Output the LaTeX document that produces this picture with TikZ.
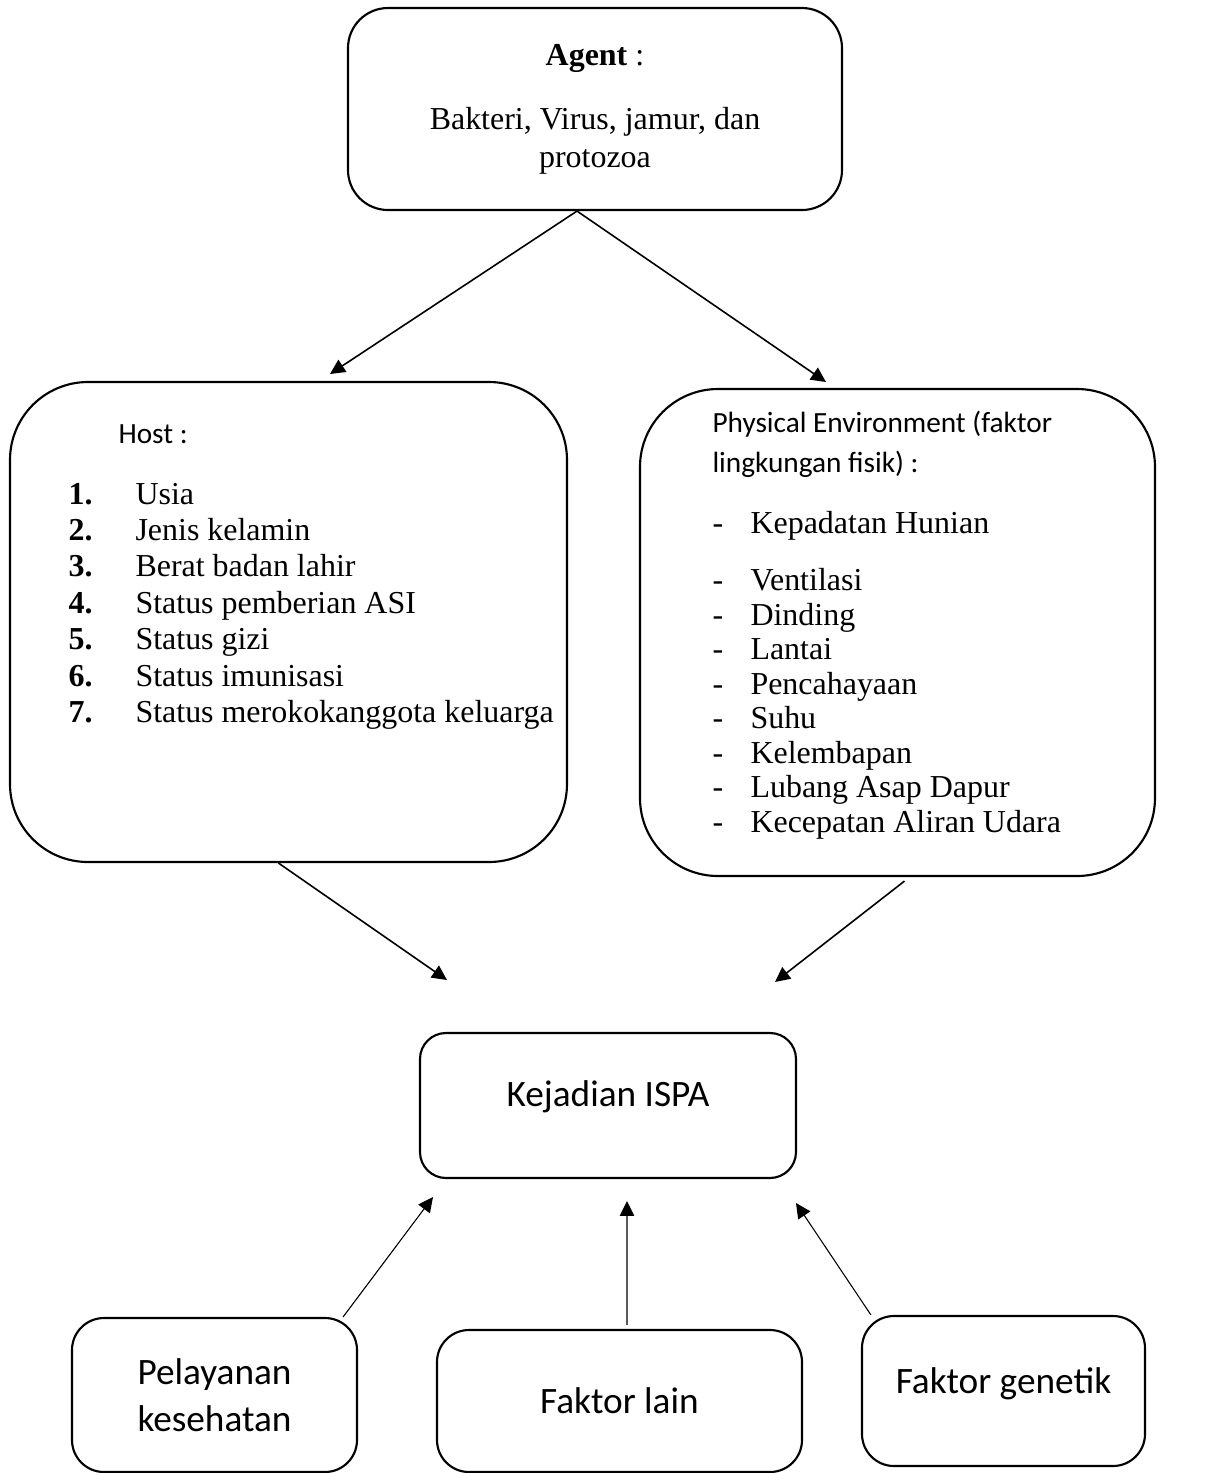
\documentclass[tikz,border=0pt]{standalone}
\usepackage{fontspec}
\setmainfont{Liberation Serif}
\newfontfamily\calibri{Carlito}
\usetikzlibrary{arrows.meta}
\newlength\px
\setlength\px{0.0132cm}

\tikzset{
  box/.style={draw, line width=0.8pt, inner sep=0pt, align=center},
  arr/.style={-{Triangle[length=5.6pt,width=5.4pt]}, line width=0.6pt},
  thinarr/.style={arr, line width=0.4pt},
  sans/.style={font=\calibri\fontsize{14}{17.5}\selectfont}
}

\begin{document}
\begin{tikzpicture}[x=0.0132cm, y=-0.0132cm]
  \useasboundingbox (0,0) rectangle (1217,1473);

  \node[box, rounded corners=40\px, minimum width=494\px, minimum height=202\px,
        font=\fontsize{12}{14.2}\selectfont] (agent) at (595,109)
        {\textbf{Agent} :\\[10pt]Bakteri, Virus, jamur, dan\\protozoa};

  \node[box, rounded corners=78\px, minimum width=557\px, minimum height=480\px] (host) at (288.5,622) {};
  \node[anchor=base west, inner sep=0pt, font=\calibri\fontsize{11}{15}\selectfont] (hostttl) at (118,443) {Host :};
  \node[anchor=base west, inner sep=0pt, font=\fontsize{12}{13.7}\selectfont] (hostlst) at (68,504)
    {\begin{tabular}[t]{@{}p{67\px}@{}l@{}}
      \textbf{1.} & Usia\\
      \textbf{2.} & Jenis kelamin\\
      \textbf{3.} & Berat badan lahir\\
      \textbf{4.} & Status pemberian ASI\\
      \textbf{5.} & Status gizi\\
      \textbf{6.} & Status imunisasi\\
      \textbf{7.} & Status merokokanggota keluarga
    \end{tabular}};

  \node[box, rounded corners=78\px, minimum width=515\px, minimum height=487\px] (phys) at (897.5,632.5) {};
  \node[anchor=base west, inner sep=0pt, align=left, font=\calibri\fontsize{11}{14.8}\selectfont] (physttl) at (712,472)
    {Physical Environment (faktor\\lingkungan fisik) :};
  \node[anchor=base west, inner sep=0pt, font=\fontsize{12}{12.95}\selectfont] (physlst) at (712,533)
    {\begin{tabular}[t]{@{}p{38\px}@{}l@{}}
      - & Kepadatan Hunian\\[8.8pt]
      - & Ventilasi\\
      - & Dinding\\
      - & Lantai\\
      - & Pencahayaan\\
      - & Suhu\\
      - & Kelembapan\\
      - & Lubang Asap Dapur\\
      - & Kecepatan Aliran Udara
    \end{tabular}};

  \node[box, sans, rounded corners=26\px, minimum width=376\px, minimum height=145\px,
        text height=10.5pt, text depth=10pt] (ispa) at (608,1105.5) {Kejadian ISPA};

  \node[box, sans, rounded corners=32\px, minimum width=285\px, minimum height=154\px] (yankes) at (214.5,1395)
    {Pelayanan\\kesehatan};
  \node[box, sans, rounded corners=32\px, minimum width=365\px, minimum height=142\px] (lain) at (619.5,1401)
    {Faktor lain};
  \node[box, sans, rounded corners=32\px, minimum width=283\px, minimum height=150\px,
        text height=10.5pt, text depth=8.8pt] (genetik) at (1003.5,1391) {Faktor genetik};

  \coordinate (hostTip) at (330,374);
  \coordinate (physTip) at (826,382);
  \coordinate (ispL) at (447,980);
  \coordinate (ispR) at (775,982);
  \coordinate (ispBL) at (433,1197);
  \coordinate (ispB) at (627,1201);
  \coordinate (ispBR) at (796,1203);

  \draw[arr] ([xshift=-18\px]agent.south) -- (hostTip);
  \draw[arr] ([xshift=-18\px]agent.south) -- (physTip);
  \draw[arr] ([xshift=-10\px]host.south) -- (ispL);
  \draw[arr] ([xshift=7\px,yshift=-4\px]phys.south) -- (ispR);
  \draw[thinarr] ([xshift=-15\px]yankes.north east) -- (ispBL);
  \draw[thinarr] ([xshift=7.5\px,yshift=4\px]lain.north) -- (ispB);
  \draw[thinarr] ([xshift=10\px]genetik.north west) -- (ispBR);
\end{tikzpicture}
\end{document}
